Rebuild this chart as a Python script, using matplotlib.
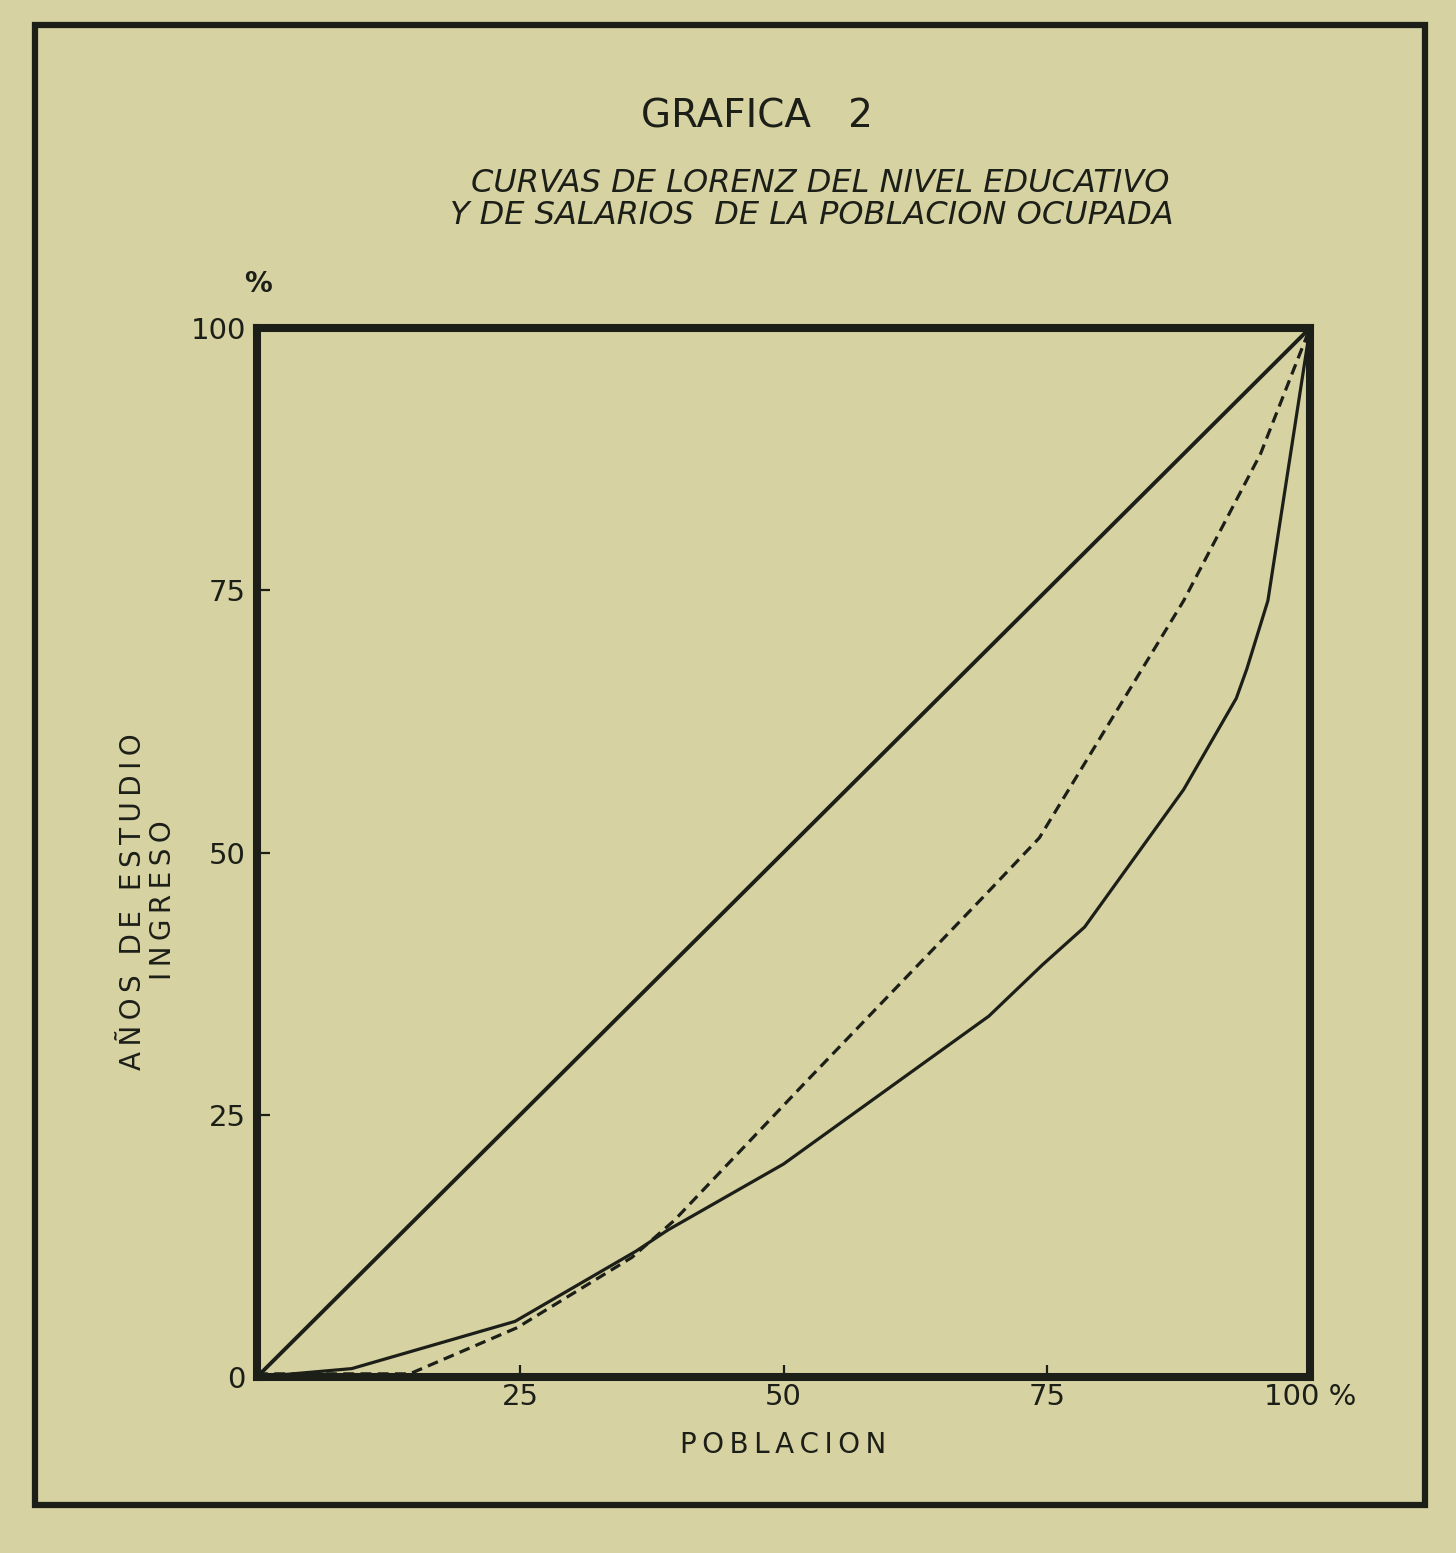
import matplotlib
matplotlib.use("Agg")
from matplotlib import pyplot as plt
from matplotlib.patches import Rectangle

# data (percent of population vs cumulative percent)
igualdad_x = [0, 100]
igualdad_y = [0, 100]

ingreso_x = [0, 9, 24.5, 36, 39, 50, 69.5, 74.6, 78.6, 88, 93, 94, 96, 100]
ingreso_y = [0, 0.8, 5.3, 12, 14, 20.3, 34.4, 39.3, 42.9, 56, 64.7, 67.5, 74, 100]

estudio_x = [0, 14.5, 24.7, 35.6, 39.6, 52, 69.2, 74.3, 88, 95.3, 100]
estudio_y = [0.3, 0.3, 4.7, 11.4, 14.9, 28, 46, 51.4, 74, 88, 100]

x_ticks = [25, 50, 75, 100]
x_labels = ["25", "50", "75", "100 %"]
y_ticks = [0, 25, 50, 75, 100]
y_labels = ["0", "25", "50", "75", "100"]

W, H = 1456, 1553
bg = "#d7d2a2"
ink = "#1c1f18"


def fx(px):
    return px / W


def fy(py):
    return 1 - py / H


def spaced(s):
    return "\u2009".join(s)


fig = plt.figure(figsize=(14.56, 15.53), dpi=100, facecolor=bg)

# outer frame of the page
fig.patches.append(Rectangle((fx(35), fy(1505)), fx(1425) - fx(35), fy(25) - fy(1505),
                             transform=fig.transFigure, fill=False,
                             edgecolor=ink, linewidth=4.5))

ax = fig.add_axes([fx(257), fy(1377), fx(1310) - fx(257), fy(328) - fy(1377)])
ax.set_facecolor(bg)

ax.plot(igualdad_x, igualdad_y, color=ink, linewidth=2.8, solid_capstyle="round")
ax.plot(ingreso_x, ingreso_y, color=ink, linewidth=2.3, solid_joinstyle="round")
ax.plot(estudio_x, estudio_y, color=ink, linewidth=2.3, dashes=(3.4, 2.0))

ax.set_xlim(0, 100)
ax.set_ylim(0, 100)

for s in ax.spines.values():
    s.set_linewidth(5.8)
    s.set_color(ink)

ax.set_xticks(x_ticks)
ax.set_xticklabels(x_labels)
ax.set_yticks(y_ticks)
ax.set_yticklabels(y_labels)
ax.tick_params(axis="both", direction="in", length=9, width=1.6, colors=ink,
               labelsize=21, labelcolor=ink)
ax.tick_params(axis="x", pad=4)
ax.tick_params(axis="y", pad=8)

# titles and axis texts
fig.text(fx(757), fy(117), "GRAFICA   2", fontsize=28, color=ink,
         ha="center", va="center")
fig.text(fx(820), fy(183), "CURVAS DE LORENZ DEL NIVEL EDUCATIVO", fontsize=23,
         style="italic", color=ink, ha="center", va="center")
fig.text(fx(812), fy(216), "Y DE SALARIOS  DE LA POBLACION OCUPADA", fontsize=23,
         style="italic", color=ink, ha="center", va="center")
fig.text(fx(258), fy(284), "%", fontsize=20, color=ink, ha="center", va="center",
         fontweight="bold")
fig.text(fx(783), fy(1445), spaced("POBLACION"), fontsize=20, color=ink,
         ha="center", va="center")
fig.text(fx(133), fy(902), spaced("AÑOS DE ESTUDIO"), fontsize=20, color=ink,
         ha="center", va="center", rotation=90)
fig.text(fx(163), fy(900), spaced("INGRESO"), fontsize=20, color=ink,
         ha="center", va="center", rotation=90)

fig.savefig("out.png", dpi=100, facecolor=bg)
